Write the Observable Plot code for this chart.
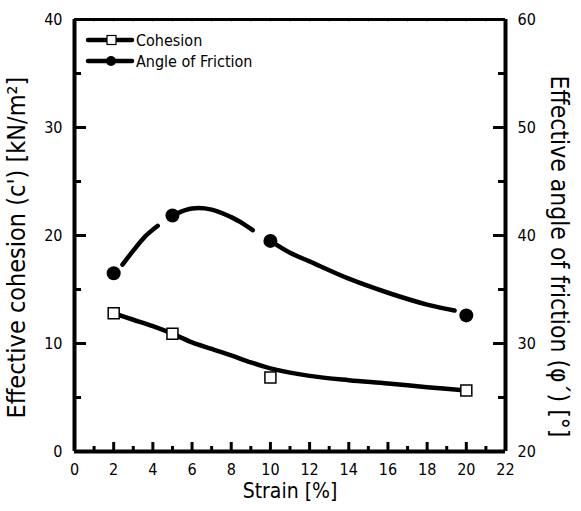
<!DOCTYPE html>
<html>
<head>
<meta charset="utf-8">
<script src="https://cdn.jsdelivr.net/npm/d3@7"></script>
<script src="https://cdn.jsdelivr.net/npm/@observablehq/plot@0.6"></script>
<style>
  html, body { margin: 0; padding: 0; background: #fff; }
  #wrap { position: relative; width: 581px; height: 511px; }
  #legend { position: absolute; left: 0; top: 0; }
  text { font-family: "DejaVu Sans Condensed", "DejaVu Sans", sans-serif; }
</style>
</head>
<body>
<div id="wrap"></div>
<script>
// measured points
const strain = [2, 5, 10, 20];
const cohesion = [12.8, 10.9, 6.85, 5.65];
const friction = [36.5, 41.85, 39.5, 32.6];

// fitted curves
const cohCurveX = [2, 3, 4, 5, 6, 7, 8, 9, 10, 12, 14, 16, 18, 20];
const cohCurveY = [12.8, 12.2, 11.6, 10.9, 10.1, 9.5, 8.9, 8.25, 7.7, 7.0, 6.6, 6.3, 5.95, 5.65];
const friCurveX = [2.45, 3, 3.6, 4.25, 5.3, 6, 7, 8, 8.6, 9.1, 10, 11, 12, 14, 16, 18, 19.4];
const friCurveY = [37.3, 38.6, 39.9, 40.9, 42.1, 42.5, 42.4, 41.7, 41.1, 40.5, 39.5, 38.4, 37.6, 36.0, 34.7, 33.6, 33.05];
const friCurveSeg = [1, 1, 1, 1, 2, 2, 2, 2, 2, 2, 3, 3, 3, 3, 3, 3, 3];

// ticks
const xTicks = [0, 2, 4, 6, 8, 10, 12, 14, 16, 18, 20, 22];
const xMinor = [1, 3, 5, 7, 9, 11, 13, 15, 17, 19, 21];
const topMinor = d3.range(1, 22);
const leftTicks = [0, 10, 20, 30, 40];
const leftMinor = [5, 15, 25, 35];
const rightTicks = [20, 30, 40, 50, 60];
const rightMinor = [25, 35, 45, 55];
const rightOffset = 20; // right axis value = left axis value + 20

const W = 581, H = 511;
const mL = 74, mR = 76, mT = 19, mB = 60;
const fw = W - mL - mR, fh = H - mT - mB;

const cohPts = strain.map((s, i) => ({x: s, y: cohesion[i]}));
const friPts = strain.map((s, i) => ({x: s, y: friction[i] - rightOffset}));
const cohLine = cohCurveX.map((x, i) => ({x, y: cohCurveY[i]}));
const friLine = friCurveX.map((x, i) => ({x, y: friCurveY[i] - rightOffset, s: friCurveSeg[i]}));

const font = '"DejaVu Sans Condensed", "DejaVu Sans", sans-serif';

const chart = Plot.plot({
  width: W, height: H,
  marginLeft: mL, marginRight: mR, marginTop: mT, marginBottom: mB,
  style: {fontFamily: font, fontSize: "16px", color: "#000", background: "#fff"},
  x: {domain: [0, 22], axis: null},
  y: {domain: [0, 40], axis: null},
  marks: [
    // top faint ticks
    Plot.ruleX(topMinor, {x: d => d, insetBottom: fh - 3, stroke: "#bbb", strokeWidth: 1}),
    // x ticks
    Plot.ruleX(xTicks, {x: d => d, insetTop: fh - 9, stroke: "#000", strokeWidth: 3}),
    Plot.ruleX(xMinor, {x: d => d, insetTop: fh - 5, stroke: "#000", strokeWidth: 3}),
    // left ticks
    Plot.ruleY(leftTicks, {y: d => d, insetRight: fw - 12, stroke: "#000", strokeWidth: 3}),
    Plot.ruleY(leftMinor, {y: d => d, insetRight: fw - 7, stroke: "#000", strokeWidth: 3}),
    // right ticks
    Plot.ruleY(rightTicks, {y: d => d - rightOffset, insetLeft: fw - 12, stroke: "#000", strokeWidth: 3}),
    Plot.ruleY(rightMinor, {y: d => d - rightOffset, insetLeft: fw - 7, stroke: "#000", strokeWidth: 3}),
    // frame
    Plot.ruleY([0], {stroke: "#000", strokeWidth: 4}),
    Plot.ruleY([40], {stroke: "#000", strokeWidth: 3}),
    Plot.ruleX([0], {stroke: "#000", strokeWidth: 4}),
    Plot.ruleX([22], {stroke: "#000", strokeWidth: 4}),
    // tick labels
    Plot.axisX({ticks: xTicks, tickSize: 0, tickPadding: 12, label: null, fontSize: 16}),
    Plot.axisY({anchor: "left", ticks: leftTicks, tickSize: 0, tickPadding: 12, label: null, fontSize: 16}),
    Plot.text(rightTicks, {y: d => d - rightOffset, text: d => String(d), frameAnchor: "right", textAnchor: "start", dx: 12, fontSize: 16}),
    // axis titles
    Plot.text(["Strain [%]"], {frameAnchor: "bottom", dy: 46, fontSize: 21}),
    Plot.text(["Effective cohesion (c') [kN/m²]"], {frameAnchor: "left", textAnchor: "middle", rotate: -90, dx: -58, dy: 12, fontSize: 25}),
    Plot.text(["Effective angle of friction (φ´) [°]"], {frameAnchor: "right", textAnchor: "middle", rotate: 90, dx: 53, dy: 21, fontSize: 24.5}),
    // curves
    Plot.line(cohLine, {x: "x", y: "y", stroke: "#000", strokeWidth: 4.5, curve: "catmull-rom", strokeLinecap: "round", strokeLinejoin: "round"}),
    Plot.line(friLine, {x: "x", y: "y", z: "s", stroke: "#000", strokeWidth: 4.5, curve: "catmull-rom", strokeLinecap: "round", strokeLinejoin: "round"}),
    // points
    Plot.dot(cohPts, {x: "x", y: "y", symbol: "square", r: 6.2, fill: "#fff", stroke: "#000", strokeWidth: 1.5}),
    Plot.dot(friPts, {x: "x", y: "y", r: 7, fill: "#000", stroke: "none"})
  ]
});

const wrap = document.getElementById("wrap");
wrap.appendChild(chart);

// legend overlay
const ns = "http://www.w3.org/2000/svg";
const leg = document.createElementNS(ns, "svg");
leg.setAttribute("id", "legend");
leg.setAttribute("width", W);
leg.setAttribute("height", 90);
const legendItems = [
  {label: "Cohesion", marker: "square", y: 40},
  {label: "Angle of Friction", marker: "circle", y: 61}
];
legendItems.forEach(it => {
  const l = document.createElementNS(ns, "line");
  l.setAttribute("x1", 88); l.setAttribute("x2", 132);
  l.setAttribute("y1", it.y); l.setAttribute("y2", it.y);
  l.setAttribute("stroke", "#000"); l.setAttribute("stroke-width", 4.5);
  l.setAttribute("stroke-linecap", "round");
  leg.appendChild(l);
  if (it.marker === "square") {
    const r = document.createElementNS(ns, "rect");
    r.setAttribute("x", 107); r.setAttribute("y", it.y - 4.5);
    r.setAttribute("width", 9); r.setAttribute("height", 9);
    r.setAttribute("fill", "#fff"); r.setAttribute("stroke", "#000"); r.setAttribute("stroke-width", 1.2);
    leg.appendChild(r);
  } else {
    const c = document.createElementNS(ns, "circle");
    c.setAttribute("cx", 111); c.setAttribute("cy", it.y); c.setAttribute("r", 5);
    c.setAttribute("fill", "#000");
    leg.appendChild(c);
  }
  const t = document.createElementNS(ns, "text");
  t.setAttribute("x", 136); t.setAttribute("y", it.y + 6);
  t.setAttribute("font-size", 16);
  t.setAttribute("fill", "#000");
  t.textContent = it.label;
  leg.appendChild(t);
});
wrap.appendChild(leg);
</script>
</body>
</html>
